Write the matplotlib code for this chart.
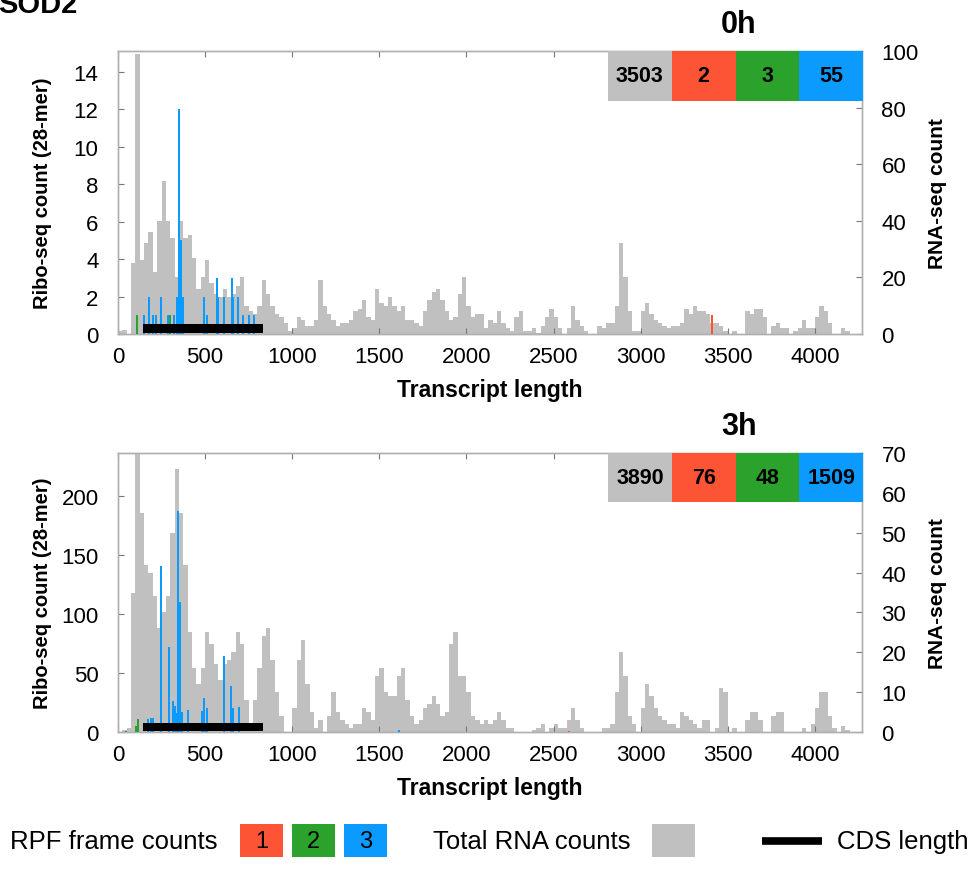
import numpy as np
import matplotlib
matplotlib.use('Agg')
import matplotlib.pyplot as plt
from matplotlib.patches import Rectangle
from matplotlib.lines import Line2D
from matplotlib.transforms import blended_transform_factory

plt.rcParams['font.family'] = ['Liberation Sans', 'DejaVu Sans']

# ---------------- data ----------------
BIN = 25  # nt per RNA-seq bin (bins start at 0)

rna_0h = [1, 1.5, 0, 25, 99, 26, 32, 36, 22, 40, 54, 40, 34, 20, 40, 34, 35, 27, 16, 20,
          26, 18, 14, 13, 16, 13, 14, 17, 20, 10, 8, 7, 10, 19, 14, 10, 7, 6, 4, 1,
          2, 6, 5, 3, 3, 5, 19, 10, 7, 5, 3, 4, 4, 5, 8, 9, 12, 6, 5, 16,
          11, 10, 13, 10, 8, 10, 5, 5, 4, 3, 8, 12, 15, 16, 12, 8, 5, 6, 14, 20,
          10, 6, 7, 7, 2, 5, 4, 8, 4, 2, 1, 6, 8, 1, 1, 2, 0.5, 3, 6, 9,
          6, 2, 0, 2, 10, 5, 3, 1, 0, 0, 3, 2, 4, 4, 10, 32, 20, 8, 1, 1,
          8, 11, 7, 5, 4, 3, 2, 3, 3, 4, 9, 7, 10, 8, 8, 7, 4, 4, 3, 1,
          0, 1, 0, 0, 8, 7, 9, 9, 6, 0, 3, 4, 2, 2, 0, 1, 2, 5, 2, 2,
          6, 10, 8, 4, 0, 0, 2, 1]

rna_3h = [0, 0.5, 1, 35, 70, 55, 42, 40, 34, 26, 30, 34, 50, 66, 55, 42, 25, 16, 12, 16,
          25, 22, 17, 13, 17, 18, 20, 25, 22, 8, 2, 8, 16, 24, 26, 18, 10, 4, 0, 0,
          6, 18, 23, 12, 5, 1, 3, 0, 4, 10, 5, 3, 2, 1, 2, 2, 6, 5, 3, 14,
          16, 10, 9, 9, 14, 16, 8, 4, 2, 3, 6, 7, 9, 7, 4, 5, 22, 25, 14, 14,
          10, 4, 3, 2, 3, 2, 3, 5, 3, 1, 1, 0, 0, 0, 0, 0.5, 1, 2, 0, 1,
          2, 1, 1, 3, 6, 3, 1, 0, 0, 0, 0, 1, 1, 2, 10, 20, 14, 4, 2, 0,
          6, 12, 9, 6, 4, 3, 2, 2, 1, 5, 4, 3, 2, 1, 3, 3, 0, 1, 11, 10,
          0, 1, 0, 0, 3, 5, 5, 3, 0, 0, 4, 5, 5, 0, 0, 0, 0, 1, 0, 2,
          6, 10, 10, 4, 1, 0, 1.5, 0.5]

# Ribo-seq (28-mer) counts per frame: positions and counts
f1_0h_pos = [3410]
f1_0h_cnt = [1]
f2_0h_pos = [110, 292, 300]
f2_0h_cnt = [1, 1, 1]
f3_0h_pos = [151, 180, 203, 216, 247, 285, 321, 341, 348, 356, 364, 372,
             495, 509, 566, 576, 608, 652, 662, 687, 716, 754, 782]
f3_0h_cnt = [1, 2, 1, 1, 2, 1, 1, 2, 12, 5, 5, 2,
             2, 1, 3, 2, 2, 3, 2, 2, 1, 1, 1]

f1_3h_pos = [2590]
f1_3h_cnt = [1]
f2_3h_pos = [46, 106, 114]
f2_3h_cnt = [1, 5, 11]
f3_3h_pos = [174, 190, 199, 245, 295, 314, 327, 337, 346, 356, 367, 404,
             480, 495, 509, 610, 648, 658, 696, 1611]
f3_3h_cnt = [11, 12, 12, 140, 72, 26, 22, 16, 187, 110, 17, 19,
             18, 29, 20, 64, 39, 20, 21, 2]

cds_start, cds_end = 141, 834

box_labels_0h = ['3503', '2', '3', '55']
box_labels_3h = ['3890', '76', '48', '1509']
panel_titles = ['0h', '3h']

x_ticks = [0, 500, 1000, 1500, 2000, 2500, 3000, 3500, 4000]
ribo_ticks_0h = [0, 2, 4, 6, 8, 10, 12, 14]
rna_ticks_0h = [0, 20, 40, 60, 80, 100]
ribo_ticks_3h = [0, 50, 100, 150, 200]
rna_ticks_3h = [0, 10, 20, 30, 40, 50, 60, 70]

# ---------------- style ----------------
GRAY = '#c0c0c0'
RED = '#fe5436'
GREEN = '#2ba22b'
BLUE = '#0b9bff'
SPINE = '#b0b0b0'
TICKC = '#777777'

W, H = 980, 870
fig = plt.figure(figsize=(W / 100, H / 100), dpi=100)

def fx(px):
    return px / W

def fy(py):
    return 1 - py / H

ax_top = fig.add_axes([fx(118), fy(335), 744 / W, 283 / H])
ax_bot = fig.add_axes([fx(118), fy(733), 744 / W, 279 / H])

panels = [
    dict(ax=ax_top, rna=rna_0h, f1=(f1_0h_pos, f1_0h_cnt), f2=(f2_0h_pos, f2_0h_cnt),
         f3=(f3_0h_pos, f3_0h_cnt), ribo_lim=15.1, rna_lim=100, ribo_ticks=ribo_ticks_0h,
         rna_ticks=rna_ticks_0h, boxes=box_labels_0h, title=panel_titles[0], boxh=50 / 283),
    dict(ax=ax_bot, rna=rna_3h, f1=(f1_3h_pos, f1_3h_cnt), f2=(f2_3h_pos, f2_3h_cnt),
         f3=(f3_3h_pos, f3_3h_cnt), ribo_lim=236, rna_lim=70, ribo_ticks=ribo_ticks_3h,
         rna_ticks=rna_ticks_3h, boxes=box_labels_3h, title=panel_titles[1], boxh=49 / 279),
]

for p in panels:
    ax = p['ax']
    ax2 = ax.twinx()
    ax.set_zorder(ax2.get_zorder() + 1)
    ax.patch.set_visible(False)

    rna = np.array(p['rna'], dtype=float)
    edges = np.arange(len(rna) + 1) * BIN
    ax2.stairs(rna, edges, fill=True, color=GRAY, linewidth=0)

    for (pos, cnt), col in zip([p['f1'], p['f2'], p['f3']], [RED, GREEN, BLUE]):
        ax.bar(pos, cnt, width=12, color=col, linewidth=0, zorder=3)

    trans = blended_transform_factory(ax.transData, ax.transAxes)
    ax.add_patch(Rectangle((cds_start, 0.004), cds_end - cds_start, 0.03,
                           transform=trans, color='black', zorder=4, linewidth=0))

    ax.set_xlim(0, 4270)
    ax.set_ylim(0, p['ribo_lim'])
    ax2.set_ylim(0, p['rna_lim'])
    ax.set_xticks(x_ticks)
    ax.set_yticks(p['ribo_ticks'])
    ax2.set_yticks(p['rna_ticks'])

    ax.tick_params(axis='both', direction='in', length=4, color=TICKC, labelsize=16,
                   top=True, right=False)
    ax.tick_params(axis='x', pad=9)
    ax.tick_params(axis='y', pad=14)
    ax2.tick_params(axis='y', direction='in', length=4, color=TICKC, labelsize=16, pad=14)

    for a in (ax, ax2):
        for s in a.spines.values():
            s.set_color(SPINE)
            s.set_linewidth(1.0)

    ax.set_xlabel('Transcript length', fontsize=16.5, fontweight='bold')
    ax.xaxis.set_label_coords(0.5, -0.157)
    ax.set_ylabel('Ribo-seq count (28-mer)', fontsize=14.5, fontweight='bold')
    ax.yaxis.set_label_coords((52 - 118) / 744, 0.5)
    ax2.set_ylabel('RNA-seq count', fontsize=15, fontweight='bold')
    ax2.yaxis.set_label_coords((928 - 118) / 744, 0.5)

    # summary boxes
    x0 = (608 - 118) / 744
    bw = (863 - 608) / 744 / 4
    bh = p['boxh']
    for i, (lab, col) in enumerate(zip(p['boxes'], [GRAY, RED, GREEN, BLUE])):
        ax.add_patch(Rectangle((x0 + i * bw, 1 - bh), bw, bh, transform=ax.transAxes,
                               color=col, clip_on=False, zorder=6, linewidth=0))
        ax.text(x0 + (i + 0.5) * bw, 1 - bh / 2, lab, transform=ax.transAxes,
                ha='center', va='center', fontsize=15.5, fontweight='bold', zorder=7)

    ax.annotate(p['title'], xy=((739 - 118) / 744, 1), xycoords='axes fraction',
                xytext=(0, 14), textcoords='offset points', ha='center', va='baseline',
                fontsize=22, fontweight='bold')

# gene name (partly cut off at the top, as in the reference)
fig.text(-0.002, fy(13), 'SOD2', fontsize=21, fontweight='bold', ha='left', va='baseline')

# legend row
ly = 842
fig.text(fx(10), fy(ly), 'RPF frame counts', fontsize=18.5, ha='left', va='center')
for lx, col, lab in [(240, RED, '1'), (292, GREEN, '2'), (344, BLUE, '3')]:
    fig.patches.append(Rectangle((fx(lx), fy(858)), 43 / W, 33 / H, transform=fig.transFigure,
                                 color=col, linewidth=0))
    fig.text(fx(lx + 21.5), fy(ly), lab, fontsize=17, ha='center', va='center')
fig.text(fx(433), fy(ly), 'Total RNA counts', fontsize=18.5, ha='left', va='center')
fig.patches.append(Rectangle((fx(652), fy(858)), 43 / W, 33 / H, transform=fig.transFigure,
                             color=GRAY, linewidth=0))
fig.lines.append(Line2D([fx(762), fx(822)], [fy(ly), fy(ly)], transform=fig.transFigure,
                        color='black', linewidth=5.5, solid_capstyle='butt'))
fig.text(fx(837), fy(ly), 'CDS length', fontsize=18.5, ha='left', va='center')

fig.savefig('out.png', dpi=100)
